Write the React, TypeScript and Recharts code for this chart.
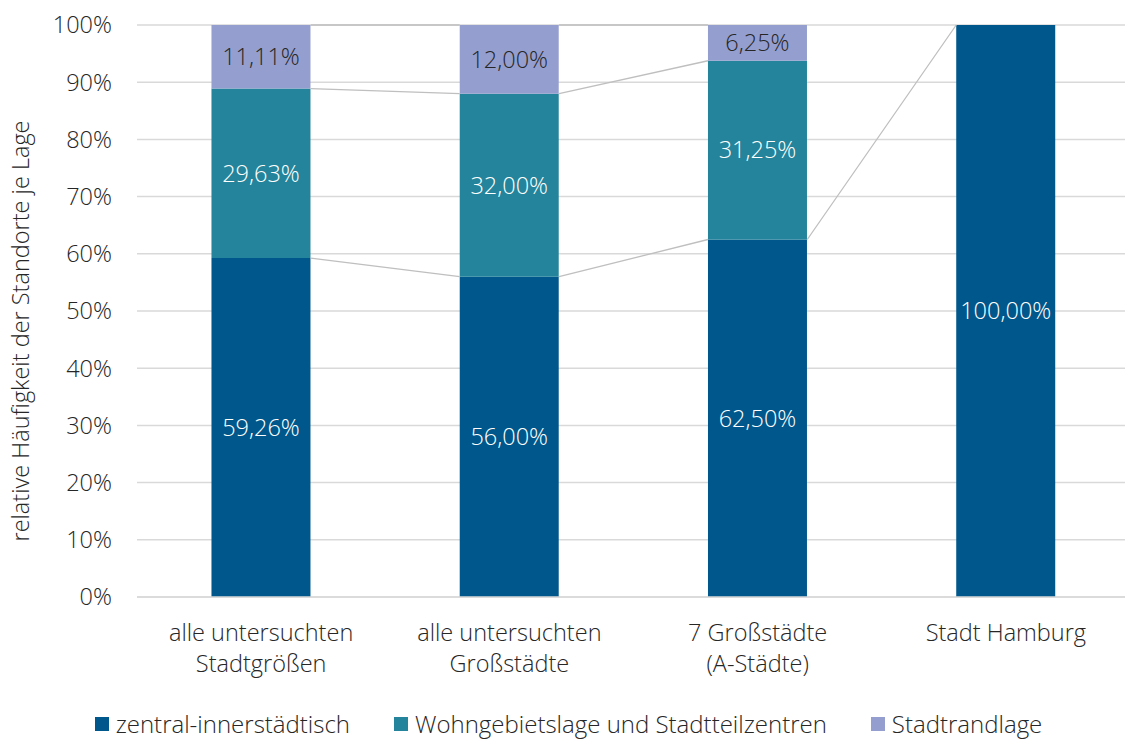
import React from "react";
import {
  Bar,
  CartesianGrid,
  ComposedChart,
  LabelList,
  Legend,
  Line,
  XAxis,
  YAxis,
} from "recharts";

const categories = [
  "alle untersuchten\nStadtgrößen",
  "alle untersuchten\nGroßstädte",
  "7 Großstädte\n(A-Städte)",
  "Stadt Hamburg",
];
const zentral = [59.26, 56.0, 62.5, 100.0];
const wohn: (number | null)[] = [29.63, 32.0, 31.25, null];
const rand: (number | null)[] = [11.11, 12.0, 6.25, null];
const yTicks = [0, 10, 20, 30, 40, 50, 60, 70, 80, 90, 100];

const seriesNames = {
  zentral: "zentral-innerstädtisch",
  wohn: "Wohngebietslage und Stadtteilzentren",
  rand: "Stadtrandlage",
};
const colors = { zentral: "#00578b", wohn: "#23849b", rand: "#959fcf" };

const FONT = "'Open Sans', 'Segoe UI', sans-serif";
const FS = 23.5;
const TEXT = "#262626";
const GRID = "#d9d9d9";
// gap on each side of a bar, as a share of the category band
const GAP = 0.3;

const data = categories.map((name, i) => ({
  name,
  zentral: zentral[i],
  wohn: wohn[i],
  rand: rand[i],
}));

// cumulative top of each stacked segment
const tops = {
  zentral: zentral.map((v) => v),
  wohn: zentral.map((v, i) => (wohn[i] == null ? null : v + (wohn[i] as number))),
  rand: zentral.map((v, i) =>
    wohn[i] == null || rand[i] == null ? null : v + (wohn[i] as number) + (rand[i] as number)
  ),
};

// Excel-style series lines: right edge of one bar to left edge of the next
function seriesLine(t: (number | null)[]) {
  const pts: { x: number; y: number | null }[] = [];
  for (let i = 0; i < t.length - 1; i++) {
    if (t[i] == null || t[i + 1] == null) continue;
    pts.push({ x: i + 1 - GAP, y: t[i] });
    pts.push({ x: i + 1 + GAP, y: t[i + 1] });
    pts.push({ x: i + 1 + GAP, y: null });
  }
  return pts;
}

const fmt = (v: unknown) =>
  v == null || v === "" ? "" : `${Number(v).toFixed(2).replace(".", ",")}%`;

function CategoryTick({ x, y, payload }: any) {
  const lines = String(payload.value).split("\n");
  return (
    <text x={x} y={y} textAnchor="middle" fill={TEXT} fontSize={FS} fontFamily={FONT} fontWeight={300}>
      {lines.map((l, i) => (
        <tspan key={i} x={x} dy={i === 0 ? 36 : 31}>
          {l}
        </tspan>
      ))}
    </text>
  );
}

function AxisTitle({ viewBox }: any) {
  const cx = 20;
  const cy = viewBox.y + viewBox.height / 2 + 20;
  return (
    <text
      x={cx}
      y={cy}
      transform={`rotate(-90, ${cx}, ${cy})`}
      textAnchor="middle"
      dominantBaseline="central"
      fill={TEXT}
      fontSize={FS}
      fontFamily={FONT}
      fontWeight={300}
    >
      relative Häufigkeit der Standorte je Lage
    </text>
  );
}

function LegendContent() {
  const keys = ["zentral", "wohn", "rand"] as const;
  return (
    <div
      style={{
        display: "flex",
        justifyContent: "center",
        gap: 44,
        height: 30,
        alignItems: "center",
        fontFamily: FONT,
        fontWeight: 300,
        fontSize: 24,
        lineHeight: "30px",
        color: TEXT,
        paddingLeft: 12,
      }}
    >
      {keys.map((k) => (
        <div key={k} style={{ display: "flex", alignItems: "center", gap: 7 }}>
          <span style={{ width: 14, height: 14, background: colors[k], display: "inline-block" }} />
          <span>{seriesNames[k]}</span>
        </div>
      ))}
    </div>
  );
}

export default function App() {
  return (
    <div
      style={{
        position: "absolute",
        left: 0,
        top: 0,
        width: 1125,
        height: 740,
        overflow: "hidden",
        background: "#fff",
      }}
    >
      <ComposedChart
        width={1130}
        height={740}
        data={data}
        margin={{ top: 25, right: 0, bottom: 0, left: 0 }}
        barCategoryGap={`${GAP * 100}%`}
      >
        <CartesianGrid vertical={false} stroke={GRID} strokeWidth={1.5} />
        <XAxis
          dataKey="name"
          height={113}
          interval={0}
          axisLine={{ stroke: GRID, strokeWidth: 1.5 }}
          tickLine={false}
          tick={<CategoryTick />}
        />
        <XAxis xAxisId="n" type="number" dataKey="x" domain={[0, 4]} hide allowDataOverflow />
        <YAxis
          width={137}
          domain={[0, 100]}
          ticks={yTicks}
          tickFormatter={(v: number) => `${v}%`}
          axisLine={false}
          tickLine={false}
          tickSize={0}
          tickMargin={25}
          tick={{ fill: TEXT, fontSize: FS, fontFamily: FONT, fontWeight: 300 }}
          label={<AxisTitle />}
        />
        <Legend verticalAlign="bottom" content={<LegendContent />} wrapperStyle={{ bottom: 1, left: 0, width: 1125 }} />
        <Bar dataKey="zentral" stackId="a" fill={colors.zentral} isAnimationActive={false}>
          <LabelList dataKey="zentral" position="center" formatter={fmt} fill="#fff" fontSize={FS} fontFamily={FONT} fontWeight={300} />
        </Bar>
        <Bar dataKey="wohn" stackId="a" fill={colors.wohn} isAnimationActive={false}>
          <LabelList dataKey="wohn" position="center" formatter={fmt} fill="#fff" fontSize={FS} fontFamily={FONT} fontWeight={300} />
        </Bar>
        <Bar dataKey="rand" stackId="a" fill={colors.rand} isAnimationActive={false}>
          <LabelList dataKey="rand" position="center" formatter={fmt} fill={TEXT} fontSize={FS} fontFamily={FONT} fontWeight={300} />
        </Bar>
        {(["zentral", "wohn", "rand"] as const).map((k) => (
          <Line
            key={k}
            xAxisId="n"
            data={seriesLine(tops[k])}
            dataKey="y"
            stroke="#bfbfbf"
            strokeWidth={1.3}
            dot={false}
            activeDot={false}
            legendType="none"
            isAnimationActive={false}
          />
        ))}
      </ComposedChart>
    </div>
  );
}
